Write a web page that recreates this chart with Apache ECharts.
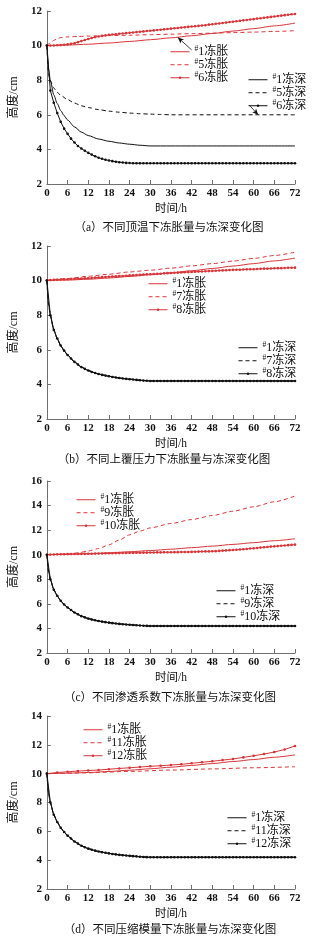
<!DOCTYPE html>
<html><head><meta charset="utf-8">
<script src="https://cdn.jsdelivr.net/npm/echarts@6/dist/echarts.min.js"></script>
<style>html,body{margin:0;padding:0;background:#fff}#c{width:329px;height:945px}</style>
</head><body><div id="c"></div>
<script>
// ---------- data ----------
const hours = Array.from({length: 73}, (_, i) => i);
const xTicks = [0, 6, 12, 18, 24, 30, 36, 42, 48, 54, 60, 66, 72];

// shared time grids
const swellT = [0, 6, 12, 18, 24, 30, 36, 42, 48, 54, 60, 66, 72];
const depthT = [0, 0.5, 1, 2, 3, 4, 5, 6, 8, 10, 12, 15, 18, 21, 24, 27, 30, 36, 48, 60, 72];

// #1 (reference case)
const swell1 = [10.0, 10.03, 10.08, 10.15, 10.24, 10.34, 10.45, 10.57, 10.7, 10.84, 10.98, 11.14, 11.3];
const depth1 = [10, 8.6, 8.0, 7.15, 6.65, 6.25, 5.95, 5.7, 5.3, 5.0, 4.8, 4.6, 4.47, 4.37, 4.3, 4.24, 4.2, 4.2, 4.2, 4.2, 4.2];

// (a) #5, #6
const swell5T = [0, 1, 2, 3, 4, 6, 9, 12, 18, 24, 30, 36, 42, 48, 54, 60, 66, 72];
const swell5 = [10.0, 10.15, 10.3, 10.4, 10.46, 10.5, 10.53, 10.55, 10.58, 10.6, 10.63, 10.66, 10.69, 10.72, 10.75, 10.78, 10.82, 10.86];
const depth5T = [0, 0.5, 1, 2, 3, 4, 6, 8, 10, 12, 15, 18, 21, 24, 27, 30, 33, 36, 48, 60, 72];
const depth5 = [10, 8.3, 7.95, 7.55, 7.3, 7.12, 6.88, 6.68, 6.52, 6.42, 6.3, 6.21, 6.15, 6.1, 6.06, 6.04, 6.02, 6.0, 6.0, 6.0, 6.0];
const swell6 = [
  10.0, 10.0, 10.01, 10.02, 10.03, 10.05, 10.07, 10.1, 10.14, 10.2,
  10.26, 10.32, 10.38, 10.44, 10.49, 10.53, 10.56, 10.59, 10.62, 10.64,
  10.66, 10.68, 10.7, 10.72, 10.74, 10.76, 10.78, 10.8, 10.82, 10.84,
  10.86, 10.88, 10.9, 10.92, 10.94, 10.96, 10.98, 11.0, 11.02, 11.04,
  11.06, 11.08, 11.1, 11.12, 11.14, 11.16, 11.18, 11.21, 11.23, 11.26,
  11.28, 11.31, 11.33, 11.36, 11.38, 11.41, 11.43, 11.46, 11.48, 11.51,
  11.53, 11.56, 11.58, 11.61, 11.63, 11.66, 11.68, 11.71, 11.73, 11.76,
  11.78, 11.81, 11.83];
const depth6 = [
  10, 7.4, 6.7, 6.1, 5.6, 5.2, 4.9, 4.62, 4.4, 4.2,
  4.05, 3.92, 3.8, 3.7, 3.6, 3.52, 3.46, 3.4, 3.36, 3.32,
  3.29, 3.26, 3.24, 3.22, 3.21, 3.2, 3.2, 3.2, 3.2, 3.2,
  3.2, 3.2, 3.2, 3.2, 3.2, 3.2, 3.2, 3.2, 3.2, 3.2,
  3.2, 3.2, 3.2, 3.2, 3.2, 3.2, 3.2, 3.2, 3.2, 3.2,
  3.2, 3.2, 3.2, 3.2, 3.2, 3.2, 3.2, 3.2, 3.2, 3.2,
  3.2, 3.2, 3.2, 3.2, 3.2, 3.2, 3.2, 3.2, 3.2, 3.2,
  3.2, 3.2, 3.2];

// (b) #7, #8
const swell7 = [10.02, 10.12, 10.25, 10.37, 10.5, 10.6, 10.72, 10.85, 10.98, 11.13, 11.28, 11.45, 11.64];
const depth7 = [10, 8.6, 8.0, 7.15, 6.65, 6.25, 5.95, 5.7, 5.3, 5.0, 4.8, 4.6, 4.47, 4.37, 4.3, 4.24, 4.2, 4.2, 4.2, 4.2, 4.2];
const swell8 = [
  10.02, 10.03, 10.04, 10.05, 10.06, 10.07, 10.08, 10.09, 10.1, 10.11,
  10.12, 10.13, 10.14, 10.15, 10.17, 10.18, 10.2, 10.21, 10.22, 10.23,
  10.25, 10.26, 10.27, 10.28, 10.3, 10.31, 10.32, 10.33, 10.35, 10.36,
  10.37, 10.38, 10.39, 10.4, 10.42, 10.43, 10.44, 10.45, 10.46, 10.47,
  10.48, 10.49, 10.5, 10.51, 10.52, 10.53, 10.54, 10.55, 10.56, 10.57,
  10.58, 10.59, 10.6, 10.61, 10.62, 10.63, 10.63, 10.64, 10.65, 10.66,
  10.66, 10.67, 10.68, 10.69, 10.69, 10.7, 10.71, 10.72, 10.72, 10.73,
  10.74, 10.74, 10.75];
const depth8 = [
  10.0, 8.0, 7.15, 6.65, 6.25, 5.95, 5.7, 5.5, 5.3, 5.15,
  5.0, 4.9, 4.8, 4.72, 4.66, 4.6, 4.55, 4.51, 4.47, 4.43,
  4.4, 4.37, 4.34, 4.32, 4.3, 4.28, 4.26, 4.24, 4.22, 4.21,
  4.2, 4.2, 4.2, 4.2, 4.2, 4.2, 4.2, 4.2, 4.2, 4.2,
  4.2, 4.2, 4.2, 4.2, 4.2, 4.2, 4.2, 4.2, 4.2, 4.2,
  4.2, 4.2, 4.2, 4.2, 4.2, 4.2, 4.2, 4.2, 4.2, 4.2,
  4.2, 4.2, 4.2, 4.2, 4.2, 4.2, 4.2, 4.2, 4.2, 4.2,
  4.2, 4.2, 4.2];

// (c) #9, #10
const swell9T = [0, 6, 9, 12, 15, 18, 21, 24, 27, 30, 36, 42, 48, 54, 60, 66, 72];
const swell9 = [10.0, 10.05, 10.15, 10.3, 10.5, 10.8, 11.2, 11.62, 11.92, 12.18, 12.54, 12.86, 13.19, 13.54, 13.9, 14.31, 14.78];
const depth9 = [10, 8.6, 8.0, 7.15, 6.65, 6.25, 5.95, 5.7, 5.3, 5.0, 4.8, 4.6, 4.47, 4.37, 4.3, 4.24, 4.2, 4.2, 4.2, 4.2, 4.2];
const swell10 = [
  10.0, 10.01, 10.02, 10.03, 10.04, 10.04, 10.05, 10.05, 10.06, 10.06,
  10.07, 10.07, 10.08, 10.08, 10.09, 10.09, 10.1, 10.11, 10.12, 10.12,
  10.13, 10.13, 10.14, 10.14, 10.15, 10.15, 10.16, 10.16, 10.17, 10.17,
  10.18, 10.18, 10.19, 10.19, 10.2, 10.2, 10.2, 10.21, 10.21, 10.22,
  10.22, 10.22, 10.23, 10.24, 10.25, 10.26, 10.27, 10.27, 10.28, 10.29,
  10.31, 10.33, 10.35, 10.37, 10.38, 10.4, 10.43, 10.45, 10.47, 10.5,
  10.52, 10.55, 10.58, 10.61, 10.63, 10.66, 10.68, 10.7, 10.73, 10.75,
  10.78, 10.8, 10.82];
const depth10 = [
  10.0, 8.0, 7.15, 6.65, 6.25, 5.95, 5.7, 5.5, 5.3, 5.15,
  5.0, 4.9, 4.8, 4.72, 4.66, 4.6, 4.55, 4.51, 4.47, 4.43,
  4.4, 4.37, 4.34, 4.32, 4.3, 4.28, 4.26, 4.24, 4.22, 4.21,
  4.2, 4.2, 4.2, 4.2, 4.2, 4.2, 4.2, 4.2, 4.2, 4.2,
  4.2, 4.2, 4.2, 4.2, 4.2, 4.2, 4.2, 4.2, 4.2, 4.2,
  4.2, 4.2, 4.2, 4.2, 4.2, 4.2, 4.2, 4.2, 4.2, 4.2,
  4.2, 4.2, 4.2, 4.2, 4.2, 4.2, 4.2, 4.2, 4.2, 4.2,
  4.2, 4.2, 4.2];

// (d) #11, #12
const swell11T = [0, 12, 24, 36, 48, 60, 72];
const swell11 = [10.0, 10.06, 10.16, 10.25, 10.33, 10.41, 10.48];
const depth11 = [10, 8.6, 8.0, 7.15, 6.65, 6.25, 5.95, 5.7, 5.3, 5.0, 4.8, 4.6, 4.47, 4.37, 4.3, 4.24, 4.2, 4.2, 4.2, 4.2, 4.2];
const swell12T = [0, 3, 6, 9, 12, 15, 18, 21, 24, 27, 30, 33, 36, 39, 42, 45, 48, 51, 54, 57, 60, 63, 66, 69, 72];
const swell12 = [10.0, 10.08, 10.13, 10.18, 10.22, 10.25, 10.31, 10.36, 10.41, 10.46, 10.51, 10.55, 10.6, 10.65, 10.72, 10.79, 10.86, 10.94, 11.02, 11.13, 11.24, 11.36, 11.5, 11.68, 11.92];
const depth12 = [
  10.0, 8.0, 7.15, 6.65, 6.25, 5.95, 5.7, 5.5, 5.3, 5.15,
  5.0, 4.9, 4.8, 4.72, 4.66, 4.6, 4.55, 4.51, 4.47, 4.43,
  4.4, 4.37, 4.34, 4.32, 4.3, 4.28, 4.26, 4.24, 4.22, 4.21,
  4.2, 4.2, 4.2, 4.2, 4.2, 4.2, 4.2, 4.2, 4.2, 4.2,
  4.2, 4.2, 4.2, 4.2, 4.2, 4.2, 4.2, 4.2, 4.2, 4.2,
  4.2, 4.2, 4.2, 4.2, 4.2, 4.2, 4.2, 4.2, 4.2, 4.2,
  4.2, 4.2, 4.2, 4.2, 4.2, 4.2, 4.2, 4.2, 4.2, 4.2,
  4.2, 4.2, 4.2];

// y-axis ranges and captions
const yMax = [12, 12, 16, 14];
const captions = [
  '（a）不同顶温下冻胀量与冻深变化图',
  '（b）不同上覆压力下冻胀量与冻深变化图',
  '（c）不同渗透系数下冻胀量与冻深变化图',
  '（d）不同压缩模量下冻胀量与冻深变化图'
];
const legendSwell = [['#1冻胀', '#5冻胀', '#6冻胀'], ['#1冻胀', '#7冻胀', '#8冻胀'], ['#1冻胀', '#9冻胀', '#10冻胀'], ['#1冻胀', '#11冻胀', '#12冻胀']];
const legendDepth = [['#1冻深', '#5冻深', '#6冻深'], ['#1冻深', '#7冻深', '#8冻深'], ['#1冻深', '#9冻深', '#10冻深'], ['#1冻深', '#11冻深', '#12冻深']];
// leader-arrow annotations in panel (a): [from, to] in data units
const arrowNotes = [[[42.0, 9.75], [38.0, 10.47]], [[58.7, 6.57], [61.3, 6.0]]];

// ---------- layout / style ----------
const FONT = "'Liberation Serif','Noto Sans CJK SC',serif";
const RED = '#d8363a';
const BLACK = '#111111';
const TXT = '#111111';
const gridTop = [11, 246, 481, 716];
const gridH = [173, 173, 172, 173];
const capPos = [[169, 228], [164, 460], [170, 698], [170, 930]];
const legPosS = [[170, 45], [148, 277], [76, 493], [83, 723]];
const legPosD = [[248, 73], [238, 341], [216, 584], [227, 811]];

const zip = (t, v) => t.map((x, i) => [x, v[i]]);
const markerNames = new Set();

function mk(name, panel, t, v, kind, color) {
  const s = {
    type: 'line', name, xAxisIndex: panel, yAxisIndex: panel,
    data: zip(t, v), animation: false, silent: true,
    lineStyle: {color, width: 1, type: kind === 'dashed' ? [4, 3] : 'solid'},
    itemStyle: {color},
    emphasis: {disabled: true}
  };
  if (kind === 'marker') {
    markerNames.add(name);
    s.symbol = 'circle'; s.symbolSize = 2.6; s.showSymbol = true;
  } else {
    s.symbol = 'none'; s.showSymbol = false; s.smooth = 0.25; s.smoothMonotone = 'x';
  }
  return s;
}

const series = [
  mk('#1冻胀', 0, swellT, swell1, 'solid', RED),
  mk('#5冻胀', 0, swell5T, swell5, 'dashed', RED),
  mk('#6冻胀', 0, hours, swell6, 'marker', RED),
  mk('#1冻深', 0, depthT, depth1, 'solid', BLACK),
  mk('#5冻深', 0, depth5T, depth5, 'dashed', BLACK),
  mk('#6冻深', 0, hours, depth6, 'marker', BLACK),

  mk('#1冻胀', 1, swellT, swell1, 'solid', RED),
  mk('#7冻胀', 1, swellT, swell7, 'dashed', RED),
  mk('#8冻胀', 1, hours, swell8, 'marker', RED),
  mk('#1冻深', 1, depthT, depth1, 'solid', BLACK),
  mk('#7冻深', 1, depthT, depth7, 'dashed', BLACK),
  mk('#8冻深', 1, hours, depth8, 'marker', BLACK),

  mk('#1冻胀', 2, swellT, swell1, 'solid', RED),
  mk('#9冻胀', 2, swell9T, swell9, 'dashed', RED),
  mk('#10冻胀', 2, hours, swell10, 'marker', RED),
  mk('#1冻深', 2, depthT, depth1, 'solid', BLACK),
  mk('#9冻深', 2, depthT, depth9, 'dashed', BLACK),
  mk('#10冻深', 2, hours, depth10, 'marker', BLACK),

  mk('#1冻胀', 3, swellT, swell1, 'solid', RED),
  mk('#11冻胀', 3, swell11T, swell11, 'dashed', RED),
  mk('#12冻胀', 3, swell12T, swell12, 'marker', RED),
  mk('#1冻深', 3, depthT, depth1, 'solid', BLACK),
  mk('#11冻深', 3, depthT, depth11, 'dashed', BLACK),
  mk('#12冻深', 3, hours, depth12, 'marker', BLACK)
];

// arrows in panel (a)
series.push({
  type: 'line', xAxisIndex: 0, yAxisIndex: 0, data: [], silent: true, animation: false,
  markLine: {
    silent: true, animation: false, symbol: ['none', 'arrow'], symbolSize: [4, 6],
    label: {show: false},
    lineStyle: {color: BLACK, width: 0.8, type: 'solid'},
    data: arrowNotes.map(p => [{coord: p[0]}, {coord: p[1]}])
  }
});

const axisColor = '#707070';
const grid = [], xAxis = [], yAxis = [], legend = [], graphic = [];
const legItem = n => ({
  name: n,
  itemStyle: markerNames.has(n) ? {} : {opacity: 0}
});
for (let i = 0; i < 4; i++) {
  grid.push({left: 41, top: gridTop[i], width: 254, height: gridH[i], containLabel: false});
  xAxis.push({
    type: 'value', gridIndex: i, min: 0, max: 72, interval: 6,
    name: '时间/h', nameLocation: 'middle', nameGap: 19,
    nameTextStyle: {fontFamily: FONT, fontSize: 11.5, color: TXT},
    axisLine: {lineStyle: {color: axisColor, width: 1}},
    axisTick: {inside: true, length: 4, lineStyle: {color: axisColor}},
    axisLabel: {fontFamily: FONT, fontSize: 11, fontWeight: 'bold', color: TXT, margin: 4,
      customValues: xTicks},
    splitLine: {show: false}
  });
  yAxis.push({
    type: 'value', gridIndex: i, min: 2, max: yMax[i], interval: 2,
    name: '高度/cm', nameLocation: 'middle', nameGap: 23,
    nameTextStyle: {fontFamily: FONT, fontSize: 12, color: TXT},
    axisLine: {show: true, lineStyle: {color: axisColor, width: 1}},
    axisTick: {show: true, inside: true, length: 4, lineStyle: {color: axisColor}},
    axisLabel: {fontFamily: FONT, fontSize: 11, fontWeight: 'bold', color: TXT, margin: 5},
    splitLine: {show: false}
  });
  const legCommon = {
    orient: 'vertical', padding: 0, itemWidth: 19, itemHeight: 3, itemGap: 0,
    selectedMode: false,
    lineStyle: {width: 1},
    textStyle: {
      fontFamily: FONT, fontSize: 12, color: TXT, lineHeight: 12.5,
      rich: {
        s: {fontFamily: FONT, fontSize: 7.5, color: TXT, padding: [0, 0, 6, 0]},
        t: {fontFamily: FONT, fontSize: 12, color: TXT, lineHeight: 12.5}
      }
    },
    formatter: n => '{s|#}{t|' + n.slice(1) + '}'
  };
  legend.push(Object.assign({}, legCommon, {left: legPosS[i][0], top: legPosS[i][1], data: legendSwell[i].map(legItem)}));
  legend.push(Object.assign({}, legCommon, {left: legPosD[i][0], top: legPosD[i][1], data: legendDepth[i].map(legItem)}));
  graphic.push({
    type: 'text', x: capPos[i][0], y: capPos[i][1], silent: true,
    style: {text: captions[i], fontFamily: FONT, fontSize: 11.5, fill: TXT, textAlign: 'center', textVerticalAlign: 'middle'}
  });
}

const chart = echarts.init(document.getElementById('c'), null, {renderer: 'canvas'});
chart.setOption({
  animation: false, backgroundColor: '#fff',
  grid, xAxis, yAxis, legend, graphic, series
});
</script>
</body></html>
